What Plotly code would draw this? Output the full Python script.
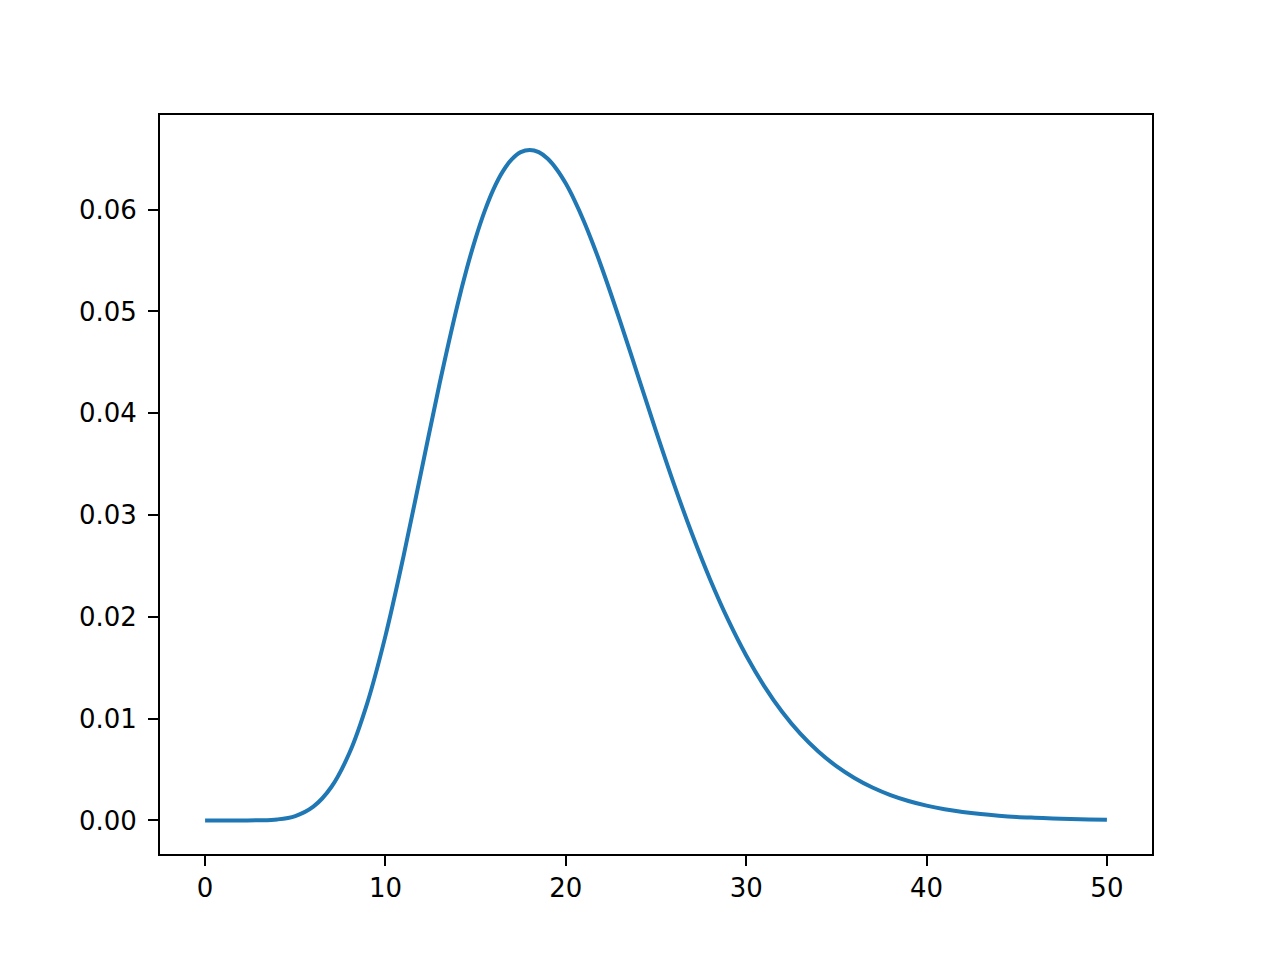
import plotly.graph_objects as go

# curve values (half steps around the peak)
x_vals = [0, 1, 2, 3, 4, 5, 6, 7, 8, 9, 10, 11, 12, 13, 14, 14.5, 15, 15.5, 16, 16.5,
          17, 17.5, 18, 18.5, 19, 19.5, 20, 20.5, 21, 21.5, 22, 23, 24, 25, 26, 27, 28, 29,
          30, 31, 32, 33, 34, 35, 36, 37, 38, 39, 40, 41, 42, 43, 44, 45, 46, 47, 48, 49, 50]
density = [
    0.0, 0.0, 0.0000005, 0.0000118, 0.0000954, 0.000431, 0.00135, 0.00328, 0.00662, 0.01158,
    0.01813, 0.02594, 0.03442, 0.04290, 0.05069, 0.05415, 0.05721, 0.05986, 0.06205, 0.06374,
    0.06494, 0.06565, 0.06587, 0.06565, 0.06500, 0.06395, 0.06256, 0.06084, 0.05887, 0.05666,
    0.05427, 0.04910, 0.04368, 0.03825, 0.03302, 0.02813, 0.02367, 0.01969,
    0.01620, 0.01320, 0.01065, 0.00852, 0.00677, 0.00533, 0.00417, 0.00323, 0.00249, 0.00191,
    0.00145, 0.00110, 0.00083, 0.00062, 0.00046, 0.00034, 0.00026, 0.00019, 0.00014, 0.00010,
    0.00007,
]
x_ticks = [0, 10, 20, 30, 40, 50]
y_ticks = [0.00, 0.01, 0.02, 0.03, 0.04, 0.05, 0.06]

fig = go.Figure()
fig.add_trace(go.Scatter(x=x_vals, y=density, mode="lines",
                         line=dict(color="#1f77b4", width=4, shape="spline"),
                         showlegend=False))

axis_style = dict(showline=True, linecolor="black", linewidth=2, mirror=True,
                  ticks="outside", ticklen=10, tickwidth=2, tickcolor="black",
                  showgrid=False, zeroline=False,
                  tickfont=dict(family="DejaVu Sans", size=26, color="black"))

fig.update_xaxes(range=[-2.5, 52.5], tickvals=x_ticks, **axis_style)
fig.update_yaxes(range=[-0.0033, 0.0693], tickvals=y_ticks, tickformat=".2f",
                 ticklabelstandoff=6, **axis_style)

fig.update_layout(width=1280, height=960, plot_bgcolor="white", paper_bgcolor="white",
                  margin=dict(l=152, r=136, t=107, b=114))

fig.write_html("out.html")
